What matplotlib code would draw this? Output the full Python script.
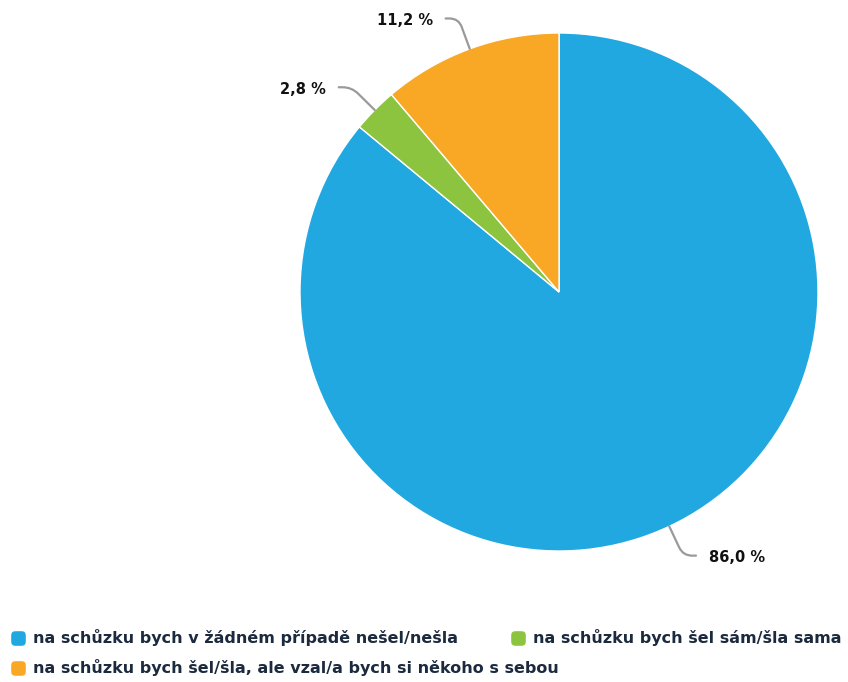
import numpy as np
import matplotlib
matplotlib.use("Agg")
import matplotlib.pyplot as plt
from matplotlib.path import Path
from matplotlib.patches import PathPatch
from matplotlib.lines import Line2D

categories = [
    "na schůzku bych v žádném případě nešel/nešla",
    "na schůzku bych šel sám/šla sama",
    "na schůzku bych šel/šla, ale vzal/a bych si někoho s sebou",
]
values = [86.0, 2.8, 11.2]
value_labels = ["86,0 %", "2,8 %", "11,2 %"]
colors = ["#21a8e0", "#8cc43f", "#f9a826"]

W, H = 848, 682
fig = plt.figure(figsize=(W / 100, H / 100), dpi=100)
cx, cy, R = 559, 292, 259
ax = fig.add_axes([(cx - R) / W, (H - cy - R) / H, 2 * R / W, 2 * R / H])
ax.set_xlim(-1, 1)
ax.set_ylim(-1, 1)
ax.axis("off")

wedges, _ = ax.pie(values, colors=colors, startangle=90, counterclock=False,
                   radius=1.0, wedgeprops=dict(edgecolor="white", linewidth=1.0))
ax.set_xlim(-1, 1)
ax.set_ylim(-1, 1)

for w, lab in zip(wedges, value_labels):
    th = np.deg2rad((w.theta1 + w.theta2) / 2)
    d = np.array([np.cos(th), np.sin(th)])
    p0 = d * 1.0
    corner = d * 1.125
    s = 1 if d[0] >= 0 else -1
    pa = corner - d * 0.035
    pb = corner + np.array([s * 0.035, 0])
    p2 = corner + np.array([s * 0.05, 0])
    path = Path([p0, pa, corner, pb, p2],
                [Path.MOVETO, Path.LINETO, Path.CURVE3, Path.CURVE3, Path.LINETO])
    ax.add_patch(PathPatch(path, facecolor="none", edgecolor="#9a9a9a",
                           linewidth=1.6, clip_on=False, capstyle="round"))
    tx = p2[0] + s * 0.05
    ax.text(tx, p2[1] - 0.008, lab, ha="left" if s > 0 else "right", va="center",
            fontsize=10.5, fontweight="bold", color="#111111", clip_on=False)

# rounded-square marker (superellipse)
t = np.linspace(0, 2 * np.pi, 80)
n = 5.0
mx_ = np.sign(np.cos(t)) * np.abs(np.cos(t)) ** (2 / n)
my_ = np.sign(np.sin(t)) * np.abs(np.sin(t)) ** (2 / n)
rsq = Path(np.column_stack([mx_, my_]), closed=True)

# legend (flowing layout)
leg_pos = [(18, 638), (518, 638), (18, 668)]
for (mx, my), col, cat in zip(leg_pos, colors, categories):
    fig.add_artist(Line2D([mx / W], [1 - my / H], marker=rsq, markersize=9.5,
                          color=col, markeredgecolor=col, linestyle="none",
                          transform=fig.transFigure))
    fig.text((mx + 15) / W, 1 - my / H, cat, ha="left", va="center",
             fontsize=11.5, fontweight="bold", color="#1b2a3e")

fig.savefig("out.png", dpi=100)
